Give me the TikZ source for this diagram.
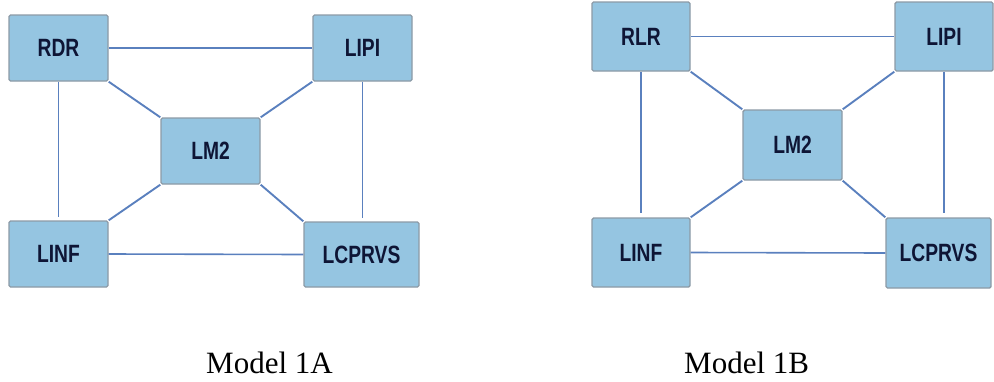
\documentclass[tikz,border=0pt]{standalone}
\usepackage{fontspec}
\setmainfont{Liberation Serif}
\newfontfamily\boxfont{Liberation Sans}[FakeStretch=0.77]
\definecolor{boxfill}{HTML}{95C5E1}
\definecolor{boxedge}{HTML}{8C9AA6}
\definecolor{linkblue}{HTML}{5A80BE}
\definecolor{labelink}{HTML}{0E1535}
\tikzset{
  mbox/.style={draw=boxedge, line width=1.4pt, fill=boxfill, rounded corners=1.5pt,
    inner sep=0pt, text=labelink, font=\boxfont\bfseries\fontsize{25}{25}\selectfont},
  link/.style={draw=linkblue, line width=1.6pt},
  slant/.style={link, line width=1.9pt},
  caption/.style={font=\fontsize{31}{31}\selectfont, anchor=base west, inner sep=0pt}
}
\begin{document}
\begin{tikzpicture}[x=1pt, y=-1pt]
\useasboundingbox (0,0) rectangle (994,381);

% Model 1A
\node[mbox, minimum width=99pt, minimum height=66pt] (rdr)  at (58.5,48)  {RDR};
\node[mbox, minimum width=99pt, minimum height=66pt] (lipiA) at (362.5,48) {LIPI};
\node[mbox, minimum width=99pt, minimum height=66pt] (lmA)  at (210.5,151) {LM2};
\node[mbox, minimum width=99pt, minimum height=66pt] (linfA) at (58.5,254) {LINF};
\node[mbox, minimum width=115pt, minimum height=65pt] (lcpA) at (361.5,254.5) {LCPRVS};

\draw[link] (rdr.east) -- (lipiA.west);
\draw[link] (linfA.east) -- (lcpA.west);
\draw[link, shorten >=3pt] (rdr.south) -- (rdr.south |- linfA.north);
\draw[link, shorten >=3pt] (lipiA.south) -- (lipiA.south |- lcpA.north);
\draw[slant] (rdr.south east) -- (lmA.north west);
\draw[slant] (lipiA.south west) -- (lmA.north east);
\draw[slant] (lmA.south west) -- (linfA.north east);
\draw[slant] (lmA.south east) -- (lcpA.north west);

% Model 1B
\node[mbox, minimum width=98pt, minimum height=69pt] (rlr)  at (641,36.5) {RLR};
\node[mbox, minimum width=98pt, minimum height=69pt] (lipiB) at (944,36.5) {LIPI};
\node[mbox, minimum width=99pt, minimum height=70pt] (lmB)  at (792.5,145) {LM2};
\node[mbox, minimum width=98pt, minimum height=69pt] (linfB) at (641,252.5) {LINF};
\node[mbox, minimum width=105pt, minimum height=70pt] (lcpB) at (938.5,253) {LCPRVS};

\draw[link] (rlr.east) -- (lipiB.west);
\draw[link] (linfB.east) -- (lcpB.west);
\draw[link, shorten >=4pt] (rlr.south) -- (rlr.south |- linfB.north);
\draw[link, shorten >=4pt] (lipiB.south) -- (lipiB.south |- lcpB.north);
\draw[slant] (rlr.south east) -- (lmB.north west);
\draw[slant] (lipiB.south west) -- (lmB.north east);
\draw[slant] (lmB.south west) -- (linfB.north east);
\draw[slant] (lmB.south east) -- (lcpB.north west);

% captions
\node[caption] (capA) at (206,373) {Model 1A};
\node[caption] (capB) at (684,373) {Model 1B};
\end{tikzpicture}
\end{document}
